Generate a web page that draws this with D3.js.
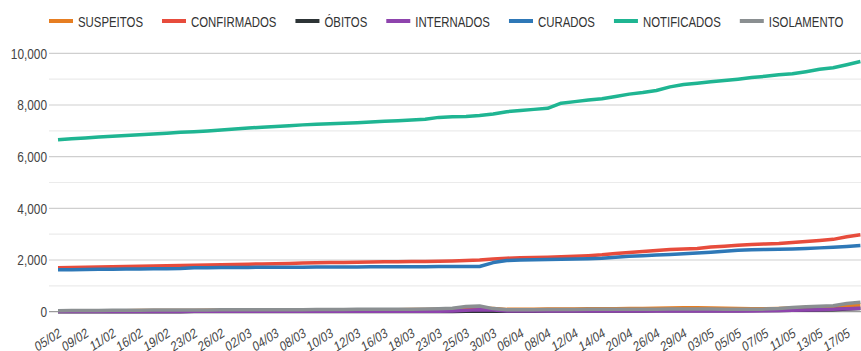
<!DOCTYPE html>
<html>
<head>
<meta charset="utf-8">
<script src="https://cdn.jsdelivr.net/npm/d3@7"></script>
<style>
  body { margin: 0; background: #fff; }
  svg text { font-family: "Liberation Sans", Arial, sans-serif; }
</style>
</head>
<body>
<svg width="861" height="351"></svg>
<script>
// dates (category axis), labels shown on every other one
var dates = ["05/02","07/02","09/02","10/02","11/02","13/02","16/02","18/02","19/02","20/02",
  "23/02","25/02","26/02","28/02","02/03","03/03","04/03","05/03","08/03","09/03",
  "10/03","11/03","12/03","13/03","16/03","17/03","18/03","19/03","23/03","24/03",
  "25/03","27/03","30/03","02/04","06/04","07/04","08/04","09/04","12/04","13/04",
  "14/04","17/04","20/04","22/04","26/04","27/04","29/04","30/04","03/05","04/05",
  "05/05","06/05","07/05","08/05","11/05","12/05","13/05","14/05","17/05","18/05"];

var yTicks = [0, 2000, 4000, 6000, 8000, 10000];
var yMinor = [1000, 3000, 5000, 7000, 9000];

var suspeitos = [30,30,35,35,40,40,45,45,50,50, 50,55,55,60,60,60,65,65,70,70,
  70,75,75,80,80,80,85,85,90,95, 110,130,120,90,90,95,100,100,105,110,
  110,115,120,125,130,140,150,150,140,130, 120,110,110,120,140,160,180,200,240,260];
var confirmados = [1700,1710,1720,1730,1740,1750,1760,1770,1780,1790,
  1800,1810,1820,1830,1840,1850,1860,1870,1880,1890,
  1900,1905,1910,1920,1930,1935,1940,1945,1950,1960,
  1980,2000,2040,2070,2090,2100,2110,2130,2150,2170,
  2200,2250,2290,2330,2370,2410,2430,2450,2500,2530,
  2570,2600,2620,2640,2680,2720,2760,2800,2900,2980];
var obitos = [0,0,0,0,0,0,0,0,0,0, 5,5,5,5,5,5,5,5,5,5,
  10,10,10,10,10,10,10,10,10,10, 15,20,20,20,20,20,25,25,25,25,
  30,30,30,30,35,35,35,35,40,40, 40,45,45,50,55,60,70,80,100,120];
var internados = [10,10,10,10,10,10,10,10,10,10, 15,15,15,15,15,15,15,15,15,15,
  20,20,20,20,20,20,20,20,20,30, 60,80,70,30,30,30,30,30,30,30,
  30,30,30,30,30,30,30,30,30,30, 30,30,40,50,60,70,80,90,110,130];
var curados = [1620,1625,1630,1640,1645,1650,1655,1660,1665,1670,
  1700,1705,1710,1712,1715,1718,1720,1722,1725,1728,
  1730,1732,1734,1736,1738,1740,1742,1744,1745,1746,
  1748,1750,1900,1980,2000,2010,2020,2030,2040,2050,
  2070,2110,2150,2170,2190,2210,2240,2270,2300,2340,
  2380,2400,2410,2420,2430,2450,2470,2490,2520,2560];
var notificados = [6650,6690,6720,6760,6790,6820,6850,6880,6910,6940,
  6960,6990,7030,7070,7110,7140,7170,7200,7230,7250,
  7270,7290,7310,7340,7370,7390,7420,7450,7520,7540,
  7550,7590,7650,7740,7790,7830,7870,8070,8130,8190,
  8240,8330,8420,8480,8560,8700,8790,8840,8900,8950,
  9000,9060,9110,9170,9210,9290,9380,9440,9560,9680];
var isolamento = [40,45,50,50,55,60,60,65,65,70, 70,70,75,75,75,80,80,80,80,85,
  85,85,90,90,90,95,95,100,110,130, 200,220,120,80,80,80,85,85,85,90,
  90,90,95,95,95,100,100,100,100,95, 90,90,100,120,160,190,210,230,320,370];

var seriesNames = ["SUSPEITOS","CONFIRMADOS","ÓBITOS","INTERNADOS","CURADOS","NOTIFICADOS","ISOLAMENTO"];
var seriesValues = [suspeitos, confirmados, obitos, internados, curados, notificados, isolamento];
var colors = ["#e67e22","#e74c3c","#2d3436","#8e44ad","#2e78b7","#1fb592","#8a8f91"];

// the source image is squeezed sideways, so text gets a horizontal scale
var squeeze = 0.79;
var legendSqueeze = 0.76;

var svg = d3.select("svg"),
    width = +svg.attr("width"),
    height = +svg.attr("height");

var x = d3.scalePoint().domain(dates).range([58, 860.4]);
var y = d3.scaleLinear().domain([0, 10000]).range([311.7, 53.3]);

// gridlines
svg.append("g").selectAll("line")
    .data(yMinor)
    .enter().append("line")
    .attr("x1", 49).attr("x2", width)
    .attr("y1", function (d) {return y(d);})
    .attr("y2", function (d) {return y(d);})
    .attr("stroke", "#ebebeb")
    .attr("stroke-width", 1.2);

svg.append("g").selectAll("line")
    .data(yTicks)
    .enter().append("line")
    .attr("x1", 49).attr("x2", width)
    .attr("y1", function (d) {return y(d);})
    .attr("y2", function (d) {return y(d);})
    .attr("stroke", function (d) {return d === 0 ? "#9a9a9a" : "#cfcfcf";})
    .attr("stroke-width", 1.2);

// y labels
var yAxis = d3.axisLeft(y).tickValues(yTicks).tickSize(0).tickPadding(0)
    .tickFormat(d3.format(","));
var yg = svg.append("g").attr("transform", "translate(47,0)").call(yAxis);
yg.select(".domain").remove();
yg.selectAll("text")
    .attr("fill", "#444")
    .attr("transform", "scale(" + squeeze + ",1)")
    .style("font-size", "15px")
    .style("font-family", "'Liberation Sans', Arial, sans-serif");

// lines
var line = d3.line()
    .x(function (d, i) {return x(dates[i]);})
    .y(function (d) {return y(d);});

svg.append("g").selectAll("path")
    .data(seriesValues)
    .enter().append("path")
    .attr("d", function (d) {return line(d);})
    .attr("fill", "none")
    .attr("stroke", function (d, i) {return colors[i];})
    .attr("stroke-width", 3.5)
    .attr("stroke-linejoin", "round");

// x labels, every other date
var xLabels = dates.filter(function (d, i) {return i % 2 === 0;});
svg.append("g").selectAll("text")
    .data(xLabels)
    .enter().append("text")
    .attr("transform", function (d) {
        return "translate(" + (x(d) + 4) + ",336) scale(" + squeeze + ",1) rotate(-27)";
    })
    .attr("text-anchor", "end")
    .attr("fill", "#444")
    .style("font-size", "14px")
    .text(function (d) {return d;});

// legend
var legend = svg.append("g");
var lx = 49;
seriesNames.forEach(function (name, i) {
    legend.append("line")
        .attr("x1", lx).attr("x2", lx + 24)
        .attr("y1", 21).attr("y2", 21)
        .attr("stroke", colors[i])
        .attr("stroke-width", 4);
    var t = legend.append("text")
        .attr("transform", "translate(" + (lx + 29) + ",26.5) scale(" + legendSqueeze + ",1)")
        .attr("fill", "#333")
        .style("font-size", "15px")
        .text(name);
    lx += 29 + t.node().getComputedTextLength() * legendSqueeze + 19;
});
</script>
</body>
</html>
